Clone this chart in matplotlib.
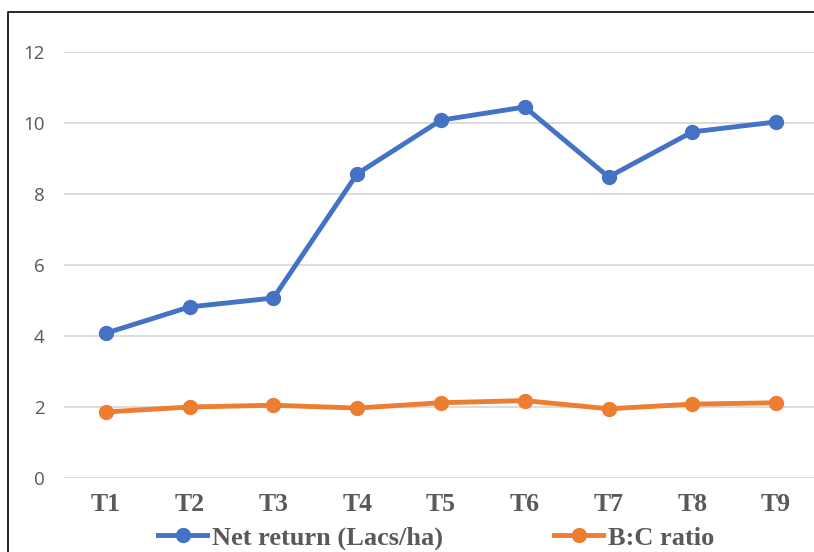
import matplotlib
matplotlib.use("Agg")
import matplotlib.pyplot as plt
from matplotlib.lines import Line2D

treatments = ["T1", "T2", "T3", "T4", "T5", "T6", "T7", "T8", "T9"]
net_return = [4.08, 4.82, 5.07, 8.57, 10.08, 10.45, 8.48, 9.75, 10.03]
bc_ratio = [1.86, 2.00, 2.05, 1.97, 2.12, 2.18, 1.95, 2.08, 2.12]
y_ticks = [0, 2, 4, 6, 8, 10, 12]

W, H = 814, 552
fig = plt.figure(figsize=(W / 100, H / 100), dpi=100)

# plot area in pixel coordinates (extends past the right edge)
left, right, bottom, top = 64, 818, 478, 52
ax = fig.add_axes([left / W, (H - bottom) / H, (right - left) / W, (bottom - top) / H])

x = list(range(len(treatments)))
blue = "#4472C4"
orange = "#ED7D31"
ax.plot(x, net_return, color=blue, lw=3.5, marker="o", ms=10, zorder=3,
        solid_capstyle="round", label="Net return (Lacs/ha)")
ax.plot(x, bc_ratio, color=orange, lw=3.5, marker="o", ms=10, zorder=3,
        solid_capstyle="round", label="B:C ratio")

ax.set_xlim(-0.5, len(treatments) - 0.5)
ax.set_ylim(0, 12)
ax.set_yticks(y_ticks)
ax.set_xticks(x)
ax.set_xticklabels(treatments, fontfamily="Liberation Serif", fontweight="bold",
                   fontsize=18.5, color="#595959")
ax.set_yticklabels([str(v) for v in y_ticks], fontfamily="Open Sans",
                   fontsize=13.5, color="#595959")
ax.tick_params(axis="both", length=0)
ax.tick_params(axis="y", pad=14)
ax.tick_params(axis="x", pad=11)
ax.grid(axis="y", color="#D9D9D9", lw=1.3)
ax.set_axisbelow(True)
for s in ax.spines.values():
    s.set_visible(False)

# outer chart frame: left and top edges (the rest lies outside the canvas)
fig.add_artist(Line2D([8 / W, 8 / W, 1.0], [0.0, 1 - 12 / H, 1 - 12 / H],
                      transform=fig.transFigure, color="black", lw=1.2))

handles = [Line2D([], [], color=blue, lw=3.5, marker="o", ms=10),
           Line2D([], [], color=orange, lw=3.5, marker="o", ms=10)]
fig.legend(handles, ["Net return (Lacs/ha)", "B:C ratio"], loc="center",
           bbox_to_anchor=(436.5 / W, 1 - 538 / H), ncol=2, frameon=False,
           prop={"family": "Liberation Serif", "weight": "bold", "size": 19},
           labelcolor="#595959", handlelength=1.86, handletextpad=0.19,
           columnspacing=4.2)

fig.savefig("out.png", dpi=100)
